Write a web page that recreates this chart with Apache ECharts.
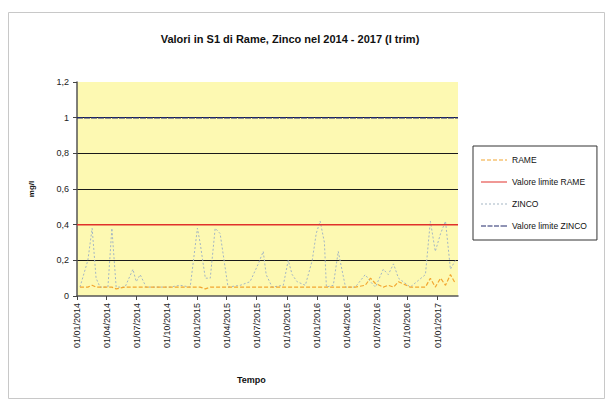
<!DOCTYPE html>
<html>
<head>
<meta charset="utf-8">
<script src="https://cdn.jsdelivr.net/npm/echarts@6/dist/echarts.min.js"></script>
<style>
  html, body { margin: 0; padding: 0; background: #fff; }
  #chart { width: 608px; height: 402px; }
</style>
</head>
<body>
<div id="chart"></div>
<script>
// Sampling dates (S1 monitoring point)
const sampleDates = [
  '2014-01-10','2014-02-03','2014-02-16','2014-02-28','2014-03-12','2014-04-05','2014-04-17','2014-04-30',
  '2014-05-27','2014-06-20','2014-06-30','2014-07-12','2014-07-30','2014-09-11','2014-10-11','2014-11-10',
  '2014-12-11','2015-01-02','2015-01-10','2015-01-26','2015-02-10','2015-02-25','2015-03-12','2015-03-24',
  '2015-04-05','2015-05-12','2015-06-11','2015-07-06','2015-07-21','2015-07-30','2015-08-17','2015-09-20',
  '2015-10-05','2015-10-17','2015-11-01','2015-11-26','2015-12-17','2015-12-29','2016-01-10','2016-01-23',
  '2016-01-29','2016-02-19','2016-03-05','2016-03-27','2016-04-26','2016-05-26','2016-06-11','2016-06-26',
  '2016-07-20','2016-08-04','2016-08-20','2016-09-04','2016-10-10','2016-11-25','2016-12-10','2016-12-25',
  '2017-01-10','2017-01-25','2017-02-09','2017-02-24'
];

// Copper (mg/l)
const rame = [
  0.05,0.05,0.06,0.05,0.05,0.05,0.05,0.04,
  0.05,0.05,0.05,0.05,0.05,0.05,0.05,0.05,
  0.05,0.05,0.05,0.04,0.05,0.05,0.05,0.05,
  0.05,0.05,0.05,0.05,0.05,0.05,0.05,0.05,
  0.05,0.05,0.05,0.05,0.05,0.05,0.05,0.05,
  0.05,0.05,0.05,0.05,0.05,0.06,0.10,0.07,
  0.05,0.06,0.05,0.08,0.05,0.05,0.10,0.05,
  0.10,0.06,0.12,0.07
];

// Zinc (mg/l)
const zinco = [
  0.05,0.20,0.38,0.10,0.05,0.05,0.38,0.05,
  0.05,0.15,0.08,0.12,0.05,0.05,0.05,0.06,
  0.05,0.38,0.30,0.10,0.10,0.38,0.35,0.20,
  0.05,0.06,0.08,0.18,0.25,0.12,0.05,0.06,
  0.20,0.12,0.08,0.06,0.20,0.35,0.42,0.30,
  0.05,0.06,0.25,0.05,0.05,0.12,0.08,0.05,
  0.15,0.12,0.18,0.10,0.05,0.12,0.42,0.25,
  0.35,0.42,0.15,0.20
];

// Regulatory limits (mg/l)
const limiteRame = 0.4;
const limiteZinco = 1;

// Axis range and quarterly tick dates
const axisStart = '2014-01-01';
const axisEnd = '2017-03-04';
const quarterTicks = [
  '2014-01-01','2014-04-01','2014-07-01','2014-10-01',
  '2015-01-01','2015-04-01','2015-07-01','2015-10-01',
  '2016-01-01','2016-04-01','2016-07-01','2016-10-01',
  '2017-01-01'
];

function toTime(s) {
  const p = s.split('-').map(Number);
  return Date.UTC(p[0], p[1] - 1, p[2]);
}
function fmtDate(t) {
  const d = new Date(Math.round(t));
  const pad = n => (n < 10 ? '0' : '') + n;
  return pad(d.getUTCDate()) + '/' + pad(d.getUTCMonth() + 1) + '/' + d.getUTCFullYear();
}
function fmtNum(v) {
  return String(parseFloat(Number(v).toFixed(2))).replace('.', ',');
}

const tMin = toTime(axisStart);
const tMax = toTime(axisEnd);
const tickTimes = quarterTicks.map(toTime);

const rameData = sampleDates.map((d, i) => [toTime(d), rame[i]]);
const zincoData = sampleDates.map((d, i) => [toTime(d), zinco[i]]);
const limRameData = [[tMin, limiteRame], [tMax, limiteRame]];
const limZincoData = [[tMin, limiteZinco], [tMax, limiteZinco]];

// Legend line samples (solid / dashed / dotted strokes as filled paths)
const iconSolid = 'path://M0,0h26v1h-26z';
const iconDash = 'path://M0,0h4v1h-4zM6,0h4v1h-4zM12,0h4v1h-4zM18,0h4v1h-4zM24,0h2v1h-2z';
const iconDot = 'path://M0,0h2v1h-2zM4,0h2v1h-2zM8,0h2v1h-2zM12,0h2v1h-2zM16,0h2v1h-2zM20,0h2v1h-2zM24,0h2v1h-2z';
const iconLongDash = 'path://M0,0h5v1h-5zM6.5,0h5v1h-5zM13,0h5v1h-5zM19.5,0h6.5v1h-6.5z';

const chart = echarts.init(document.getElementById('chart'), null, { renderer: 'svg' });

const font = 'Liberation Sans, Arial, sans-serif';

chart.setOption({
  animation: false,
  backgroundColor: '#ffffff',
  textStyle: { fontFamily: font },
  title: {
    text: 'Valori in S1 di Rame, Zinco nel 2014 - 2017 (I trim)',
    left: 285,
    textAlign: 'center',
    top: 28,
    textStyle: { fontFamily: font, fontSize: 11, fontWeight: 'bold', color: '#111' }
  },
  graphic: [
    {
      type: 'rect',
      shape: { x: 8.5, y: 12.5, width: 596, height: 386 },
      style: { fill: 'none', stroke: '#c8c8c8', lineWidth: 1 },
      silent: true,
      z: -10
    },
    {
      type: 'text',
      left: 237,
      top: 375,
      style: { text: 'Tempo', fontFamily: font, fontSize: 9, fontWeight: 'bold', fill: '#111' }
    }
  ],
  legend: {
    orient: 'vertical',
    left: 473,
    top: 146,
    width: 130,
    padding: [9, 10, 9, 8],
    itemGap: 12,
    itemWidth: 26,
    itemHeight: 1.4,
    borderColor: '#333',
    borderWidth: 1,
    backgroundColor: '#fff',
    textStyle: { fontFamily: font, fontSize: 8.5, color: '#111', lineHeight: 10 },
    data: [
      { name: 'RAME', icon: iconDash },
      { name: 'Valore limite RAME', icon: iconSolid },
      { name: 'ZINCO', icon: iconDot },
      { name: 'Valore limite ZINCO', icon: iconLongDash }
    ]
  },
  grid: {
    left: 77,
    right: 150,
    top: 82,
    bottom: 106,
    show: true,
    backgroundColor: '#fdf9b2',
    borderWidth: 0
  },
  xAxis: {
    type: 'value',
    min: tMin,
    max: tMax,
    splitLine: { show: false },
    axisLine: { lineStyle: { color: '#555', width: 1.5 } },
    axisTick: { show: true, customValues: tickTimes, length: 4, lineStyle: { color: '#444' } },
    axisLabel: {
      customValues: tickTimes,
      rotate: 90,
      formatter: fmtDate,
      fontFamily: font,
      fontSize: 9,
      color: '#222',
      margin: 7
    }
  },
  yAxis: {
    type: 'value',
    min: 0,
    max: 1.2,
    interval: 0.2,
    name: 'mg/l',
    nameLocation: 'middle',
    nameGap: 42,
    nameTextStyle: { fontFamily: font, fontSize: 8, fontWeight: 'bold', color: '#111' },
    axisLine: { show: true, lineStyle: { color: '#555', width: 1.5 } },
    axisTick: { show: true, length: 4, lineStyle: { color: '#444' } },
    axisLabel: { formatter: fmtNum, fontFamily: font, fontSize: 9, color: '#222', margin: 8 },
    splitLine: {
      show: true,
      lineStyle: {
        color: ['rgba(0,0,0,0)', '#1a1a1a', '#1a1a1a', '#1a1a1a', '#1a1a1a', '#1a1a1a', 'rgba(0,0,0,0)'],
        width: 1.2
      }
    }
  },
  series: [
    {
      name: 'ZINCO',
      type: 'line',
      data: zincoData,
      showSymbol: false,
      symbol: 'none',
      z: 3,
      lineStyle: { color: '#a3b6c4', width: 1, type: [2, 2] },
      itemStyle: { color: '#a3b6c4' }
    },
    {
      name: 'RAME',
      type: 'line',
      data: rameData,
      showSymbol: false,
      symbol: 'none',
      z: 4,
      lineStyle: { color: '#f2a630', width: 1.2, type: [4, 2] },
      itemStyle: { color: '#f2a630' }
    },
    {
      name: 'Valore limite RAME',
      type: 'line',
      data: limRameData,
      showSymbol: false,
      symbol: 'none',
      z: 5,
      lineStyle: { color: '#e0312b', width: 1.5 },
      itemStyle: { color: '#e0312b' }
    },
    {
      name: 'Valore limite ZINCO',
      type: 'line',
      data: limZincoData,
      showSymbol: false,
      symbol: 'none',
      z: 5,
      lineStyle: { color: '#20296b', width: 1.5, type: [6, 1] },
      itemStyle: { color: '#20296b' }
    }
  ]
});
</script>
</body>
</html>
